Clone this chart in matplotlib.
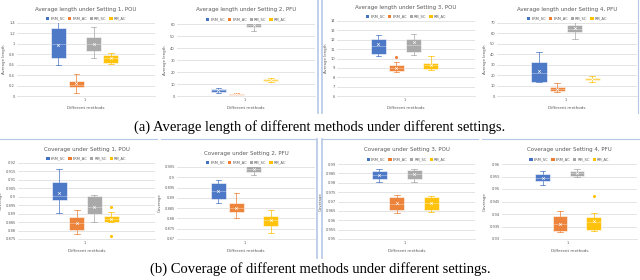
import matplotlib
matplotlib.use("Agg")
import matplotlib.pyplot as plt
from matplotlib.lines import Line2D
from matplotlib.patches import Patch

methods = ["ERM_SC", "ERM_AC", "RM_SC", "RM_AC"]
colors = ["#4472C4", "#ED7D31", "#A5A5A5", "#FFC000"]

# each entry: (whisker low, q1, median, q3, whisker high, mean)
len_s1 = [(0.59, 0.72, 1.00, 1.30, 1.41, 0.98),
          (0.05, 0.17, 0.22, 0.29, 0.43, 0.24),
          (0.72, 0.87, 1.00, 1.13, 1.32, 1.00),
          (0.61, 0.64, 0.72, 0.78, 0.83, 0.72)]
len_s2 = [(2.2, 3.6, 4.7, 6.1, 7.0, 4.8),
          (0.3, 0.6, 1.2, 2.0, 2.5, 1.3),
          (54.4, 57.2, 59.2, 61.1, 63.3, 59.0),
          (11.4, 12.3, 13.2, 14.2, 15.3, 13.3)]
len_s3 = [(10.27, 10.45, 11.34, 12.09, 12.48, 11.59),
          (8.56, 8.67, 8.99, 9.27, 9.59, 9.00),
          (10.34, 10.70, 11.48, 12.12, 12.58, 11.73),
          (8.78, 8.85, 9.30, 9.56, 10.31, 9.31)]
len_s4 = [(13.2, 13.5, 22.3, 32.9, 41.9, 24.2),
          (3.5, 4.8, 7.1, 9.0, 12.3, 7.0),
          (54.5, 61.3, 64.5, 68.1, 72.6, 64.8),
          (13.2, 15.5, 16.5, 17.7, 19.0, 16.6)]
cov_s1 = [(0.8903, 0.8978, 0.9006, 0.9085, 0.9167, 0.9022),
          (0.8778, 0.8806, 0.8843, 0.8881, 0.8921, 0.8843),
          (0.8853, 0.8899, 0.8937, 0.9002, 0.9008, 0.8937),
          (0.8849, 0.8849, 0.8870, 0.8885, 0.8909, 0.8866)]
cov_s2 = [(0.8876, 0.8895, 0.8935, 0.8970, 0.8985, 0.8935),
          (0.8801, 0.8829, 0.8852, 0.8874, 0.8923, 0.8852),
          (0.9009, 0.9026, 0.9040, 0.9053, 0.9075, 0.9040),
          (0.8728, 0.8765, 0.8790, 0.8811, 0.8843, 0.8790)]
cov_s3 = [(0.9806, 0.9820, 0.9842, 0.9863, 0.9875, 0.9842),
          (0.9637, 0.9657, 0.9685, 0.9724, 0.9733, 0.9690),
          (0.9804, 0.9820, 0.9846, 0.9867, 0.9875, 0.9846),
          (0.9642, 0.9657, 0.9690, 0.9724, 0.9728, 0.9690)]
cov_s4 = [(0.9515, 0.9531, 0.9545, 0.9560, 0.9571, 0.9546),
          (0.9329, 0.9333, 0.9360, 0.9392, 0.9412, 0.9362),
          (0.9547, 0.9551, 0.9562, 0.9573, 0.9580, 0.9562),
          (0.9332, 0.9337, 0.9367, 0.9389, 0.9404, 0.9372)]

fliers = {
    "len_s3": [[], [10.16], [], []],
    "cov_s1": [[], [], [], [0.8937, 0.8766]],
    "cov_s4": [[], [], [], [0.9472]],
}

panels = [
    ("Average length under Setting 1, POU", "Average length", len_s1, "len_s1", [0, 0.2, 0.4, 0.6, 0.8, 1, 1.2, 1.4]),
    ("Average length under Setting 2, PFU", "Average length", len_s2, "len_s2", [0, 10, 20, 30, 40, 50, 60]),
    ("Average length under Setting 3, POU", "Average length", len_s3, "len_s3", [6, 7, 8, 9, 10, 11, 12, 13, 14]),
    ("Average length under Setting 4, PFU", "Average length", len_s4, "len_s4", [0, 10, 20, 30, 40, 50, 60, 70]),
    ("Coverage under Setting 1, POU", "Coverage", cov_s1, "cov_s1",
     [0.875, 0.88, 0.885, 0.89, 0.895, 0.9, 0.905, 0.91, 0.915, 0.92]),
    ("Coverage under Setting 2, PFU", "Coverage", cov_s2, "cov_s2",
     [0.87, 0.875, 0.88, 0.885, 0.89, 0.895, 0.9, 0.905]),
    ("Coverage under Setting 3, POU", "Coverage", cov_s3, "cov_s3",
     [0.95, 0.955, 0.96, 0.965, 0.97, 0.975, 0.98, 0.985, 0.99]),
    ("Coverage under Setting 4, PFU", "Coverage", cov_s4, "cov_s4",
     [0.93, 0.935, 0.94, 0.945, 0.95, 0.955, 0.96]),
]

# plot areas in pixels: (left, top, right, bottom)
rects = [(17, 23, 155, 96), (177, 24, 315, 96), (337, 21, 475, 96), (497, 23, 637, 96),
         (18, 163, 155, 239), (177, 167, 315, 239), (338, 164, 475, 239), (502, 164, 637, 239)]

W, H = 640, 280
fig = plt.figure(figsize=(6.4, 2.8), dpi=100)
txt = "#595959"
positions = [0.30, 0.43, 0.555, 0.68]

for (title, ylab, stats, key, ticks), (l, t, r, b) in zip(panels, rects):
    ax = fig.add_axes([l / W, 1 - b / H, (r - l) / W, (b - t) / H])
    fl = fliers.get(key, [[], [], [], []])
    for i, s in enumerate(stats):
        st = [dict(whislo=s[0], q1=s[1], med=s[2], q3=s[3], whishi=s[4], mean=s[5], fliers=fl[i])]
        c = colors[i]
        ax.bxp(st, positions=[positions[i]], widths=0.11, patch_artist=True, showmeans=True,
               boxprops=dict(facecolor=c, edgecolor="white", linewidth=0.4, alpha=0.95),
               medianprops=dict(color="white", linewidth=0.4, alpha=0.6),
               whiskerprops=dict(color=c, linewidth=0.5),
               capprops=dict(color=c, linewidth=0.5),
               meanprops=dict(marker="x", markeredgecolor="white", markersize=2, markeredgewidth=0.4),
               flierprops=dict(marker="o", markerfacecolor=c, markeredgecolor=c, markersize=1.2),
               capwidths=0.04)
    ax.set_xlim(0, 1)
    ax.set_ylim(ticks[0], ticks[-1])
    ax.set_yticks(ticks)
    ax.set_yticklabels([f"{v:g}" for v in ticks])
    ax.set_xticks([0.49])
    ax.set_xticklabels(["1"])
    ax.tick_params(axis="both", labelsize=2.6, colors=txt, length=0, pad=1.5)
    ax.grid(axis="y", color="#D9D9D9", linewidth=0.5)
    ax.set_axisbelow(True)
    for sp in ["top", "right", "left"]:
        ax.spines[sp].set_visible(False)
    ax.spines["bottom"].set_color("#D9D9D9")
    ax.spines["bottom"].set_linewidth(0.5)
    ax.set_title(title, fontsize=4, color=txt, pad=9)
    ax.set_ylabel(ylab, fontsize=2.8, color=txt, labelpad=2)
    ax.set_xlabel("Different methods", fontsize=3, color=txt, labelpad=3)
    handles = [Patch(facecolor=c, label=m) for m, c in zip(methods, colors)]
    ax.legend(handles=handles, loc="lower center", bbox_to_anchor=(0.5, 1.0), ncol=4, frameon=False,
              fontsize=2.6, handlelength=0.9, handleheight=0.9, handletextpad=0.3, columnspacing=0.8,
              borderpad=0.2, labelcolor=txt)

# screenshot frames
frame = "#B4C7E7"
def seg(x0, y0, x1, y1, lw=1.2):
    fig.add_artist(Line2D([x0 / W, x1 / W], [1 - y0 / H, 1 - y1 / H], color=frame, linewidth=lw))

seg(318, 0, 318, 113)
seg(321.5, 0, 321.5, 113)
seg(638, 0, 638, 113, 0.8)
for x0, x1 in [(0, 157), (161, 316), (322, 478), (482, 640)]:
    seg(x0, 139, x1, 139, 0.8)
seg(317, 139, 317, 258)
seg(322, 139, 322, 258)

cap = dict(fontsize=10.5, family="Liberation Serif", ha="center", va="center", color="black")
fig.text(0.5, 1 - 127 / H, "(a) Average length of different methods under different settings.", **cap)
fig.text(0.5, 1 - 269 / H, "(b) Coverage of different methods under different settings.", **cap)

fig.savefig("out.png", dpi=100, facecolor="white")
